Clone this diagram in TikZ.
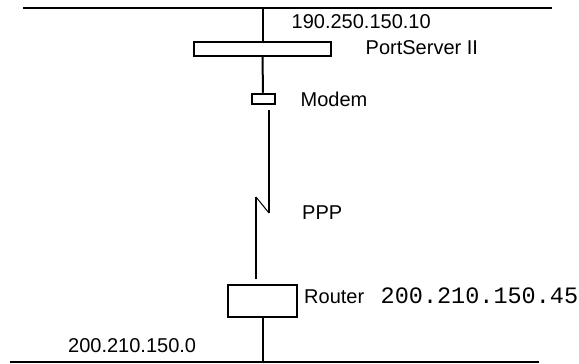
\documentclass[tikz,border=0pt]{standalone}
\usepackage{fontspec}
\setmainfont{Liberation Sans}
\newfontfamily\monofont{Liberation Mono}
\begin{document}
\begin{tikzpicture}[x=1pt,y=-1pt,
  wire/.style={line width=2pt},
  thinwire/.style={line width=1pt},
  boxnode/.style={draw,line width=2pt,inner sep=0pt,fill=white},
  lbl/.style={inner sep=0pt,anchor=base west,font=\fontsize{20}{23}\selectfont}]
\useasboundingbox (0,0) rectangle (579,364);
% network lines
\coordinate (tl) at (23,8);
\coordinate (tr) at (552,8);
\coordinate (bl) at (10,362);
\coordinate (br) at (539,362);
\draw[wire] (tl) -- (tr);
\draw[wire] (bl) -- (br);
% devices
\node[boxnode,minimum width=137pt,minimum height=14pt] (ps) at (262.5,49) {};
\node[boxnode,minimum width=23pt,minimum height=10.5pt] (modem) at (263,99) {};
\node[boxnode,minimum width=69pt,minimum height=31.5pt] (router) at (262.5,301) {};
% connectors
\draw[wire] (ps.north) -- (ps.north |- tl);
\draw[wire] (ps.south) -- (modem.north);
\coordinate (m1) at (269,110);
\coordinate (z1) at (269,213);
\coordinate (z2) at (256,197);
\coordinate (r1) at (256,279);
\draw[wire] (m1) -- (z1);
\draw[thinwire] (z1) -- (z2);
\draw[wire] (z2) -- (r1);
\draw[wire] (router.south) -- (router.south |- bl);
% labels
\node[lbl] (ip1) at (291.5,28.3) {190.250.150.10};
\node[lbl] (pslbl) at (365.5,54) {PortServer II};
\node[lbl] (mlbl) at (300.5,106) {Modem};
\node[lbl] (ppp) at (302,219) {PPP};
\node[lbl] (rlbl) at (304,303.6) {Router};
\node[inner sep=0pt,anchor=base west,font=\monofont\fontsize{23.5}{26}\selectfont] (rip) at (380.5,303.6) {200.210.150.45};
\node[lbl] (net) at (68,352.4) {200.210.150.0};
\end{tikzpicture}
\end{document}
